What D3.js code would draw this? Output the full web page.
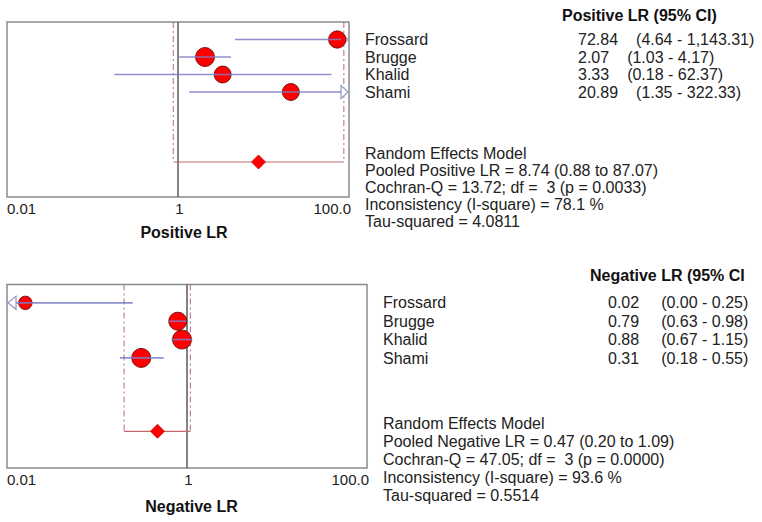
<!DOCTYPE html>
<html>
<head>
<meta charset="utf-8">
<script src="https://cdn.jsdelivr.net/npm/d3@7"></script>
<style>
  body { margin: 0; background: #fff; }
  svg { display: block; font-family: "Liberation Sans", Arial, sans-serif; }
</style>
</head>
<body>
<svg id="chart" width="762" height="522"></svg>
<script>
// Study data
const studies = ["Frossard", "Brugge", "Khalid", "Shami"];

const posEst = [72.84, 2.07, 3.33, 20.89];
const posLo = [4.64, 1.03, 0.18, 1.35];
const posHi = [1143.31, 4.17, 62.37, 322.33];
const posWeight = [24.3, 29.1, 23.3, 23.3];
const posPooled = [8.74, 0.88, 87.07];
const posHet = [13.72, 3, 0.0033, 78.1, 4.0811];

const negEst = [0.016, 0.79, 0.88, 0.31];
const negLo = [0.001, 0.63, 0.67, 0.18];
const negHi = [0.25, 0.98, 1.15, 0.55];
const negWeight = [14.7, 26.5, 29.4, 29.4];
const negPooled = [0.47, 0.20, 1.09];
const negHet = [47.05, 3, 0.0000, 93.6, 0.5514];

const tickValues = [0.01, 1, 100];
const tickLabels = ["0.01", "1", "100.0"];

const svg = d3.select("#chart");
const f2 = d3.format(",.2f");
const f4 = d3.format(".4f");
const rScale = d3.scaleSqrt().domain([0, 30]).range([0, 9.6]);

function panel(opt) {
  const x = d3.scaleLog().domain([0.01, 100]).range([opt.x0, opt.x1]);
  const y = d3.scaleLinear().domain([0, 10]).range([opt.y0, opt.y1]);
  const rows = studies.map((s, i) => ({
    name: s, est: opt.est[i], lo: opt.lo[i], hi: opt.hi[i], w: opt.weight[i], row: i + 1
  }));
  const g = svg.append("g");
  const clampX = v => x(Math.max(0.01, Math.min(100, v)));

  // frame
  g.append("rect")
    .attr("x", opt.x0).attr("y", opt.y0)
    .attr("width", opt.x1 - opt.x0).attr("height", opt.y1 - opt.y0)
    .attr("fill", "none").attr("stroke", "#8a8a8a").attr("stroke-width", 1.5);

  // line of no effect
  g.append("line")
    .attr("x1", x(1)).attr("x2", x(1))
    .attr("y1", opt.y0).attr("y2", opt.y1)
    .attr("stroke", "#5a5a5a").attr("stroke-width", 1.5);

  // pooled CI: dash-dot verticals and horizontal bar
  const pRow = 8;
  [opt.pooled[1], opt.pooled[2]].forEach(v => {
    g.append("line")
      .attr("x1", x(v)).attr("x2", x(v))
      .attr("y1", opt.y0).attr("y2", y(pRow))
      .attr("stroke", "#b06a86").attr("stroke-width", 1)
      .attr("stroke-dasharray", "6,3,2,3");
  });
  g.append("line")
    .attr("x1", x(opt.pooled[1])).attr("x2", x(opt.pooled[2]))
    .attr("y1", y(pRow)).attr("y2", y(pRow))
    .attr("stroke", "#c46a6a").attr("stroke-width", 1.2);
  const pd = 7;
  const px = x(opt.pooled[0]), py = y(pRow);
  g.append("path")
    .attr("d", `M${px - pd},${py}L${px},${py - pd}L${px + pd},${py}L${px},${py + pd}Z`)
    .attr("fill", "#ff0000").attr("stroke", "#cc0000").attr("stroke-width", 0.8);

  // arrows for CIs beyond the axis
  rows.forEach(d => {
    const yy = y(d.row);
    if (d.hi > 100) {
      const t = x(100) - 1;
      g.append("path")
        .attr("d", `M${t - 7},${yy - 6.5}L${t},${yy}L${t - 7},${yy + 6.5}Z`)
        .attr("fill", "#fff").attr("stroke", "#9aa0cc").attr("stroke-width", 1.3);
    }
    if (d.lo < 0.01) {
      const t = x(0.01) + 1;
      g.append("path")
        .attr("d", `M${t + 8},${yy - 6.5}L${t},${yy}L${t + 8},${yy + 6.5}Z`)
        .attr("fill", "#fff").attr("stroke", "#9aa0cc").attr("stroke-width", 1.3);
    }
  });

  // study markers
  g.selectAll(".pt").data(rows).enter().append("circle")
    .attr("cx", d => x(d.est)).attr("cy", d => y(d.row))
    .attr("r", d => rScale(d.w))
    .attr("fill", "#ff0000").attr("stroke", "#7a1010").attr("stroke-width", 1);

  // CI lines drawn over markers
  g.selectAll(".ci").data(rows).enter().append("line")
    .attr("x1", d => d.lo < 0.01 ? clampX(d.lo) + 9 : clampX(d.lo))
    .attr("x2", d => d.hi > 100 ? clampX(d.hi) - 8 : clampX(d.hi))
    .attr("y1", d => y(d.row)).attr("y2", d => y(d.row))
    .attr("stroke", "#7c7cc8").attr("stroke-width", 1.6).attr("stroke-opacity", 0.85);

  // tick labels
  tickValues.forEach((t, i) => {
    g.append("text")
      .attr("x", i === 0 ? opt.x0 : i === 2 ? opt.x1 + 2 : x(t) + 1.5)
      .attr("y", opt.tickY).attr("dy", "0.35em")
      .attr("text-anchor", i === 0 ? "start" : i === 2 ? "end" : "middle")
      .attr("font-size", 15).attr("fill", "#222")
      .text(tickLabels[i]);
  });
  g.append("text")
    .attr("x", opt.titleX).attr("y", opt.titleY).attr("dy", "0.35em")
    .attr("text-anchor", "middle").attr("font-size", 16).attr("font-weight", "bold")
    .attr("fill", "#111").text(opt.title);

  // right-hand table
  g.append("text")
    .attr("x", opt.headX).attr("y", opt.headY).attr("dy", "0.35em")
    .attr("font-size", 16).attr("font-weight", "bold").attr("fill", "#111")
    .text(opt.head);
  rows.forEach(d => {
    g.append("text")
      .attr("x", opt.nameX).attr("y", y(d.row)).attr("dy", "0.35em")
      .attr("font-size", 16).attr("fill", "#222").text(d.name);
    const tv = g.append("text")
      .attr("x", opt.valX).attr("y", y(d.row)).attr("dy", "0.35em")
      .attr("font-size", 16).attr("fill", "#222").text(f2(d.est));
    tv.append("tspan").attr("dx", opt.ciGap)
      .text(`(${f2(d.lo)} - ${f2(d.hi)})`);
  });

  const lines = [
    "Random Effects Model",
    `Pooled ${opt.label} = ${f2(opt.pooled[0])} (${f2(opt.pooled[1])} to ${f2(opt.pooled[2])})`,
    `Cochran-Q = ${f2(opt.het[0])}; df =  ${opt.het[1]} (p = ${f4(opt.het[2])})`,
    `Inconsistency (I-square) = ${opt.het[3].toFixed(1)} %`,
    `Tau-squared = ${f4(opt.het[4])}`
  ];
  lines.forEach((s, i) => {
    g.append("text")
      .attr("x", opt.nameX).attr("y", opt.statY + i * opt.statGap).attr("dy", "0.35em")
      .attr("xml:space", "preserve").style("white-space", "pre")
      .attr("font-size", 16).attr("fill", "#222").text(s);
  });
}

panel({
  est: posEst, lo: posLo, hi: posHi, weight: posWeight, pooled: posPooled, het: posHet,
  label: "Positive LR", title: "Positive LR", head: "Positive LR (95% CI)",
  x0: 7, x1: 349, y0: 22, y1: 197,
  tickY: 209, titleX: 184, titleY: 232,
  headX: 562, headY: 15, nameX: 365, valX: 578, ciGap: 18,
  statY: 153, statGap: 17.2
});

panel({
  est: negEst, lo: negLo, hi: negHi, weight: negWeight, pooled: negPooled, het: negHet,
  label: "Negative LR", title: "Negative LR", head: "Negative LR (95% CI",
  x0: 7, x1: 367, y0: 284.5, y1: 468,
  tickY: 480, titleX: 191.5, titleY: 506,
  headX: 590, headY: 275, nameX: 383, valX: 608, ciGap: 22,
  statY: 423.5, statGap: 17.9
});
</script>
</body>
</html>
